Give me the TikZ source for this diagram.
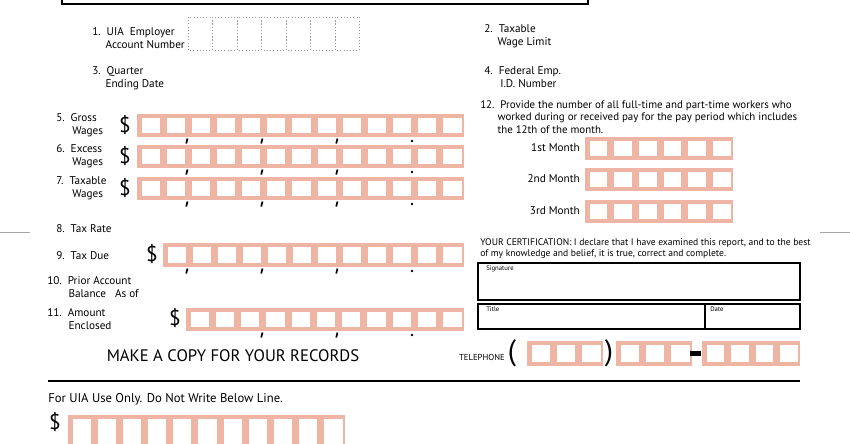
\documentclass[tikz,border=0pt]{standalone}
\usepackage{fontspec}
\setmainfont{PT Sans}
\definecolor{salmon}{RGB}{238,180,164}
\newcommand\mystrip[5]{%
  \fill[salmon] (#1,#2) rectangle (#3,#4);
  \pgfmathsetmacro\cw{(#3-#1)/#5}
  \foreach \i in {1,...,#5}{
    \fill[white] ({#1+(\i-1)*\cw+4.5},{#2+4}) rectangle ({#1+\i*\cw-2.5},{#4-4});
  }}
\newcommand\commas[3]{% y, list of comma x, dot x
  \foreach \cx in {#2}{\draw[line width=1.3pt] ({\cx+0.5},{#1-2.5}) -- ({\cx-0.8},{#1+2.5});}
  \fill (#3,#1) circle (1.3);}
\begin{document}
\begin{tikzpicture}[x=0.75pt,y=-0.75pt,
  lbl/.style={anchor=west,align=left,font=\fontsize{8.4}{9.4}\selectfont,inner sep=0pt},
  dol/.style={font=\fontsize{16}{16}\selectfont,inner sep=0pt}]
\useasboundingbox (0,0) rectangle (850,443);
\draw[line width=1.2pt] (62,-10) rectangle (588,4);
% dotted boxes
\foreach \i in {0,...,6}{\draw[dotted,gray!80] ({188+\i*24.5},17) rectangle ({188+(\i+1)*24.5},50);}
\draw[gray!70] (0,232) -- (30,232);
\draw[gray!70] (820,232) -- (850,232);
\node[lbl] at (92,38) {1.\ \ UIA\ \ Employer\\\hspace{10pt}Account Number};
\node[lbl] at (484,36) {2.\ \ Taxable\\\hspace{10pt}Wage Limit};
\node[lbl] at (92,78) {3.\ \ Quarter\\\hspace{10pt}Ending Date};
\node[lbl] at (484,77) {4.\ \ Federal Emp.\\\hspace{12pt}I.D. Number};
\node[lbl,font=\fontsize{8.2}{9.2}\selectfont] at (480,117) {12.\ \ Provide the number of all full-time and part-time workers who\\\hspace{13pt}worked during or received pay for the pay period which includes\\\hspace{13pt}the 12th of the month.};
\node[lbl] at (56,125) {5.\ \ Gross\\\hspace{12pt}Wages};
\node[lbl] at (56,156) {6.\ \ Excess\\\hspace{12pt}Wages};
\node[lbl] at (56,188) {7.\ \ Taxable\\\hspace{12pt}Wages};
\node[lbl] at (56,229) {8.\ \ Tax Rate};
\node[lbl] at (56,256) {9.\ \ Tax Due};
\node[lbl] at (47,287) {10.\ \ Prior Account\\\hspace{16pt}Balance\ \ \ As of};
\node[lbl] at (47,319) {11.\ \ Amount\\\hspace{16pt}Enclosed};
% wage strips
\foreach \y in {114,145,177}{
  \node[dol] at (125,{\y+11}) {\$};
  \mystrip{137}{\y}{464}{\y+23}{13}
  \commas{\y+27}{187,262,337}{412}
}
\node[dol] at (152,254) {\$};
\mystrip{163}{243}{464}{267}{12}
\commas{271}{187,262,337}{412}
\node[dol] at (175,318) {\$};
\mystrip{186}{308}{464}{331}{11}
\commas{335}{262,337}{412}
% months
\foreach \y/\t in {137/1st,168/2nd,200/3rd}{
  \node[lbl,anchor=east] at (580,{\y+11}) {\t\ Month};
  \mystrip{585}{\y}{733}{\y+23}{6}
}
\node[lbl,anchor=north west,font=\fontsize{7.2}{8.3}\selectfont] at (480,238) {YOUR CERTIFICATION: I declare that I have examined this report, and to the best\\of my knowledge and belief, it is true, correct and complete.};
\draw[thick] (478,263) rectangle (800,300);
\node[lbl,anchor=north west,font=\fontsize{5}{6}\selectfont] at (486,265) {Signature};
\draw[thick] (478,304) rectangle (800,329);
\draw[thick] (705,304) -- (705,329);
\node[lbl,anchor=north west,font=\fontsize{5}{6}\selectfont] at (486,307) {Title};
\node[lbl,anchor=north west,font=\fontsize{5}{6}\selectfont] at (710,307) {Date};
\node[font=\fontsize{12.5}{12}\selectfont] at (233,356) {MAKE A COPY FOR YOUR RECORDS};
\node[lbl,anchor=east,font=\fontsize{6.5}{7}\selectfont] at (505,357) {TELEPHONE};
\node[font=\fontsize{22}{22}\selectfont] at (512,353) {(};
\mystrip{527}{341}{603}{366}{3}
\node[font=\fontsize{22}{22}\selectfont] at (609,353) {)};
\mystrip{616}{341}{692}{366}{3}
\fill (690,351) rectangle (701,356);
\mystrip{702}{341}{800}{366}{4}
\draw[line width=2pt] (48,381) -- (800,381);
\node[lbl,font=\fontsize{9.5}{10}\selectfont] at (48,399) {For UIA Use Only. Do Not Write Below Line.};
\node[dol] at (55,422) {\$};
\mystrip{68}{415}{345}{452}{11}
\end{tikzpicture}
\end{document}
